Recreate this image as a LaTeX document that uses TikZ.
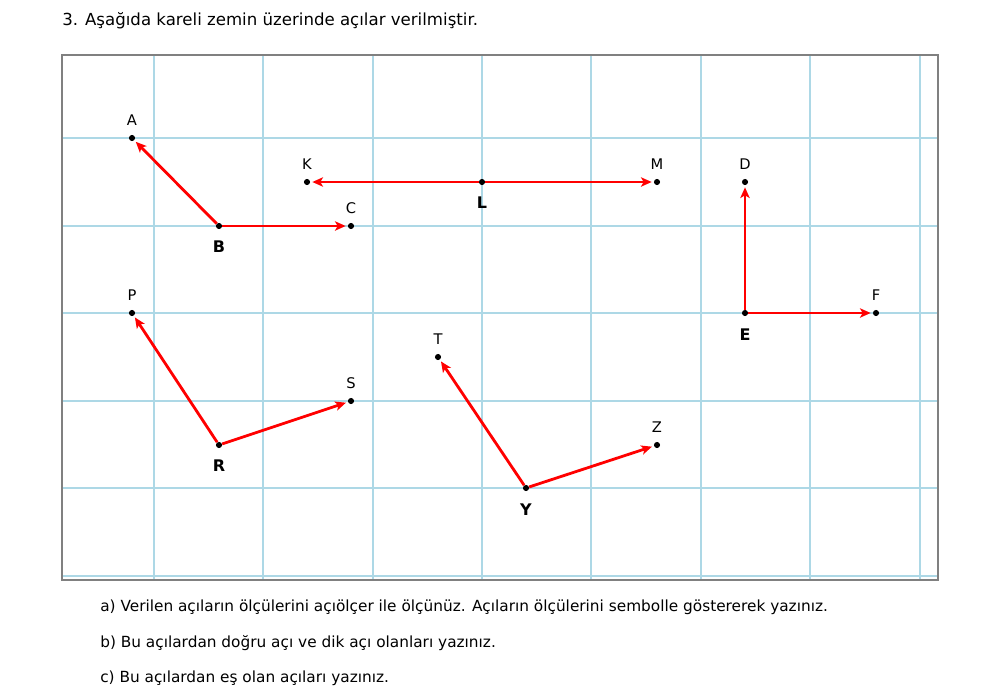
\documentclass[tikz,border=0pt]{standalone}
\usepackage{fontspec}
\setmainfont{DejaVu Sans}
\usetikzlibrary{arrows.meta}
\begin{document}
\begin{tikzpicture}[x=0.75pt,y=-0.75pt,
  gridline/.style={draw=lightblue,line width=1.6pt},
  ray/.style={draw=red,line width=2.1pt,-{Stealth[length=8pt,width=7pt,inset=2pt]},shorten >=1.5pt},
  dot/.style={circle,fill=black,inner sep=0pt,minimum size=4.6pt},
  lbl/.style={font=\fontsize{11}{13}\selectfont,inner sep=0pt},
  blbl/.style={font=\fontsize{12}{14}\selectfont\bfseries,inner sep=0pt},
  txt/.style={font=\fontsize{11.5}{13}\selectfont,anchor=west,inner sep=0pt}]
\definecolor{lightblue}{HTML}{ADD8E6}
\useasboundingbox (0,0) rectangle (1000,700);
% grid
\foreach \x in {154,263,373,482,591,701,810,920}
  \draw[gridline] (\x,55) -- (\x,580);
\foreach \y in {138,226,313,401,488,576}
  \draw[gridline] (62,\y) -- (938,\y);
\draw[draw=gray,line width=0.9pt] (62,55) rectangle (938,580);
% title
\node[txt,font=\fontsize{12.45}{14}\selectfont] (title) at (62,21) {3. Aşağıda kareli zemin üzerinde açılar verilmiştir.};
% points
\node[dot] (A) at (132,138) {};
\node[dot] (B) at (219,226) {};
\node[dot] (C) at (351,226) {};
\node[dot] (K) at (307,182) {};
\node[dot] (L) at (482,182) {};
\node[dot] (M) at (657,182) {};
\node[dot] (D) at (745,182) {};
\node[dot] (E) at (745,313) {};
\node[dot] (F) at (876,313) {};
\node[dot] (P) at (132,313) {};
\node[dot] (R) at (219,445) {};
\node[dot] (S) at (351,401) {};
\node[dot] (T) at (438,357) {};
\node[dot] (Y) at (526,488) {};
\node[dot] (Z) at (657,445) {};
% rays
\draw[ray] (B) -- (A);
\draw[ray] (B) -- (C);
\draw[ray] (L) -- (K);
\draw[ray] (L) -- (M);
\draw[ray] (E) -- (D);
\draw[ray] (E) -- (F);
\draw[ray] (R) -- (P);
\draw[ray] (R) -- (S);
\draw[ray] (Y) -- (T);
\draw[ray] (Y) -- (Z);
% labels
\node[lbl] (lA) at (132,120) {A};
\node[lbl] (lC) at (351,208) {C};
\node[lbl] (lK) at (307,164) {K};
\node[lbl] (lM) at (657,164) {M};
\node[lbl] (lD) at (745,164) {D};
\node[lbl] (lF) at (876,295) {F};
\node[lbl] (lP) at (132,295) {P};
\node[lbl] (lS) at (351,383) {S};
\node[lbl] (lT) at (438,339) {T};
\node[lbl] (lZ) at (657,427) {Z};
\node[blbl] (lB) at (219,247) {B};
\node[blbl] (lL) at (482,203) {L};
\node[blbl] (lE) at (745,335) {E};
\node[blbl] (lR) at (219,466) {R};
\node[blbl] (lY) at (526,510) {Y};
% questions
\node[txt] (qa) at (100,607) {a) Verilen açıların ölçülerini açıölçer ile ölçünüz. Açıların ölçülerini sembolle göstererek yazınız.};
\node[txt] (qb) at (100,643) {b) Bu açılardan doğru açı ve dik açı olanları yazınız.};
\node[txt] (qc) at (100,678) {c) Bu açılardan eş olan açıları yazınız.};
\end{tikzpicture}
\end{document}
